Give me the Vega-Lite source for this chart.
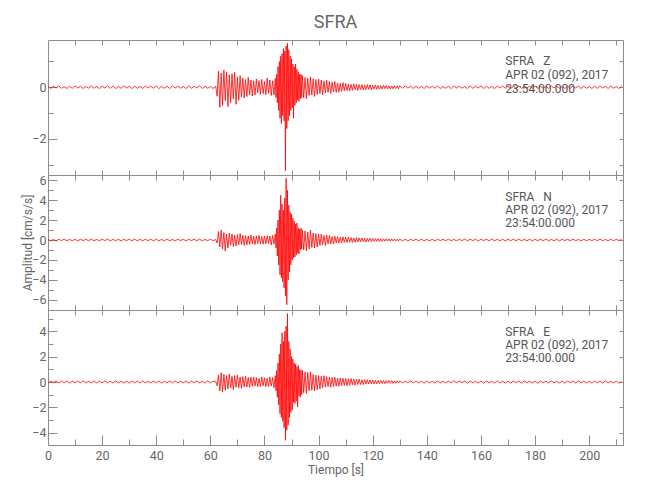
{
"$schema": "https://vega.github.io/schema/vega-lite/v6.json",
"padding": {"left": 21, "top": 14, "right": 20, "bottom": 8},
"title": {"text": "SFRA", "fontSize": 18, "font": "Roboto", "color": "#666", "fontWeight": "normal", "anchor": "middle", "frame": "group", "offset": 7},
"data": {"values": [
{"t":0,"z":0.03,"n":0.07,"e":-0.07},{"t":1,"z":-0.05,"n":-0.08,"e":0.08},{"t":2,"z":0.04,"n":0.06,"e":-0.06},{"t":3,"z":-0.03,"n":-0.09,"e":0.09},{"t":4,"z":0.05,"n":0.08,"e":-0.08},{"t":5,"z":-0.04,"n":-0.06,"e":0.07},{"t":6,"z":0.02,"n":0.09,"e":-0.06},{"t":7,"z":-0.05,"n":-0.07,"e":0.08},{"t":8,"z":0.04,"n":0.06,"e":-0.09},{"t":9,"z":-0.04,"n":-0.08,"e":0.07},
{"t":10,"z":0.05,"n":0.07,"e":-0.06},{"t":11,"z":-0.03,"n":-0.09,"e":0.08},{"t":12,"z":0.04,"n":0.08,"e":-0.07},{"t":13,"z":-0.05,"n":-0.06,"e":0.09},{"t":14,"z":0.03,"n":0.07,"e":-0.08},{"t":15,"z":-0.04,"n":-0.08,"e":0.06},{"t":16,"z":0.05,"n":0.09,"e":-0.07},{"t":17,"z":-0.04,"n":-0.07,"e":0.08},{"t":18,"z":0.03,"n":0.06,"e":-0.09},{"t":19,"z":-0.05,"n":-0.08,"e":0.07},
{"t":20,"z":0.04,"n":0.07,"e":-0.06},{"t":21,"z":-0.03,"n":-0.06,"e":0.08},{"t":22,"z":0.05,"n":0.09,"e":-0.07},{"t":23,"z":-0.04,"n":-0.08,"e":0.06},{"t":24,"z":0.04,"n":0.06,"e":-0.08},{"t":25,"z":-0.05,"n":-0.07,"e":0.09},{"t":26,"z":0.03,"n":0.08,"e":-0.07},{"t":27,"z":-0.04,"n":-0.09,"e":0.06},{"t":28,"z":0.05,"n":0.07,"e":-0.08},{"t":29,"z":-0.03,"n":-0.06,"e":0.07},
{"t":30,"z":0.04,"n":0.08,"e":-0.09},{"t":31,"z":-0.05,"n":-0.07,"e":0.08},{"t":32,"z":0.04,"n":0.09,"e":-0.06},{"t":33,"z":-0.04,"n":-0.08,"e":0.07},{"t":34,"z":0.03,"n":0.06,"e":-0.08},{"t":35,"z":-0.05,"n":-0.07,"e":0.09},{"t":36,"z":0.05,"n":0.08,"e":-0.07},{"t":37,"z":-0.03,"n":-0.06,"e":0.06},{"t":38,"z":0.04,"n":0.07,"e":-0.08},{"t":39,"z":-0.04,"n":-0.09,"e":0.07},
{"t":40,"z":0.05,"n":0.08,"e":-0.06},{"t":41,"z":-0.05,"n":-0.07,"e":0.08},{"t":42,"z":0.03,"n":0.06,"e":-0.09},{"t":43,"z":-0.04,"n":-0.08,"e":0.07},{"t":44,"z":0.04,"n":0.09,"e":-0.06},{"t":45,"z":-0.05,"n":-0.07,"e":0.08},{"t":46,"z":0.05,"n":0.06,"e":-0.07},{"t":47,"z":-0.03,"n":-0.08,"e":0.09},{"t":48,"z":0.04,"n":0.07,"e":-0.08},{"t":49,"z":-0.04,"n":-0.06,"e":0.06},
{"t":50,"z":0.03,"n":0.08,"e":-0.07},{"t":51,"z":-0.05,"n":-0.09,"e":0.08},{"t":52,"z":0.05,"n":0.07,"e":-0.09},{"t":53,"z":-0.04,"n":-0.06,"e":0.07},{"t":54,"z":0.04,"n":0.08,"e":-0.06},{"t":55,"z":-0.03,"n":-0.07,"e":0.08},{"t":56,"z":0.05,"n":0.09,"e":-0.07},{"t":57,"z":-0.05,"n":-0.08,"e":0.06},{"t":58,"z":0.04,"n":0.06,"e":-0.08},{"t":59,"z":-0.04,"n":-0.07,"e":0.09},
{"t":60,"z":0.03,"n":0.08,"e":-0.07},{"t":61,"z":-0.05,"n":-0.06,"e":0.06},
{"t":62,"z":0.03,"n":0.04,"e":0.04},{"t":62.5,"z":-0.35,"n":-0.3,"e":-0.3},{"t":63,"z":0.62,"n":0.85,"e":0.55},{"t":63.5,"z":-0.78,"n":-0.7,"e":-0.7},{"t":64,"z":0.55,"n":1.0,"e":0.72},{"t":64.5,"z":-0.7,"n":-0.9,"e":-0.8},{"t":65,"z":0.66,"n":0.75,"e":0.6},{"t":65.5,"z":-0.52,"n":-1.1,"e":-0.65},{"t":66,"z":0.6,"n":0.6,"e":0.5},{"t":66.5,"z":-0.75,"n":-0.8,"e":-0.55},{"t":67,"z":0.48,"n":0.7,"e":0.62},{"t":67.5,"z":-0.6,"n":-0.55,"e":-0.48},{"t":68,"z":0.52,"n":0.6,"e":0.45},{"t":68.5,"z":-0.45,"n":-0.65,"e":-0.6},{"t":69,"z":0.58,"n":0.5,"e":0.5},{"t":69.5,"z":-0.66,"n":-0.6,"e":-0.42},{"t":70,"z":0.4,"n":0.55,"e":0.55},{"t":70.5,"z":-0.5,"n":-0.5,"e":-0.45},{"t":71,"z":0.45,"n":0.65,"e":0.4},{"t":71.5,"z":-0.38,"n":-0.45,"e":-0.5},{"t":72,"z":0.35,"n":0.5,"e":0.42},{"t":72.5,"z":-0.42,"n":-0.55,"e":-0.38},{"t":73,"z":0.3,"n":0.45,"e":0.45},{"t":73.5,"z":-0.36,"n":-0.5,"e":-0.4},{"t":74,"z":0.38,"n":0.4,"e":0.35},{"t":74.5,"z":-0.3,"n":-0.45,"e":-0.42},{"t":75,"z":0.28,"n":0.5,"e":0.38},{"t":75.5,"z":-0.34,"n":-0.4,"e":-0.35},{"t":76,"z":0.25,"n":0.38,"e":0.4},{"t":76.5,"z":-0.3,"n":-0.45,"e":-0.32},{"t":77,"z":0.32,"n":0.42,"e":0.35},{"t":77.5,"z":-0.22,"n":-0.36,"e":-0.38},{"t":78,"z":0.26,"n":0.48,"e":0.3},{"t":78.5,"z":-0.28,"n":-0.4,"e":-0.36},{"t":79,"z":0.3,"n":0.35,"e":0.4},{"t":79.5,"z":-0.25,"n":-0.42,"e":-0.3},{"t":80,"z":0.22,"n":0.4,"e":0.34},{"t":80.5,"z":-0.3,"n":-0.38,"e":-0.38},{"t":81,"z":0.36,"n":0.45,"e":0.3},{"t":81.5,"z":-0.24,"n":-0.35,"e":-0.35},{"t":82,"z":0.28,"n":0.4,"e":0.4},{"t":82.5,"z":-0.32,"n":-0.5,"e":-0.32},{"t":83,"z":0.25,"n":0.45,"e":0.36},{"t":83.5,"z":-0.3,"n":-0.4,"e":-0.45},{"t":84,"z":0.34,"n":0.6,"e":0.5},
{"t":84.25,"z":-0.4,"n":-0.8,"e":-0.7},{"t":84.5,"z":0.5,"n":1.2,"e":0.9},{"t":84.75,"z":-0.6,"n":-1.6,"e":-1.2},{"t":85,"z":0.8,"n":2.0,"e":1.5},{"t":85.25,"z":-0.9,"n":-2.5,"e":-1.8},{"t":85.5,"z":1.0,"n":3.0,"e":2.2},{"t":85.75,"z":-1.2,"n":-3.5,"e":-2.5},{"t":86,"z":1.2,"n":4.5,"e":3.0},{"t":86.25,"z":-1.4,"n":-3.8,"e":-2.8},{"t":86.5,"z":1.3,"n":3.6,"e":3.9},{"t":86.75,"z":-1.1,"n":-4.2,"e":-3.1},{"t":87,"z":1.5,"n":3.0,"e":3.2},{"t":87.25,"z":-1.3,"n":-4.8,"e":-3.6},{"t":87.5,"z":1.4,"n":4.2,"e":4.0},{"t":87.75,"z":-3.23,"n":-5.6,"e":-4.6},{"t":88,"z":1.6,"n":6.2,"e":4.4},{"t":88.25,"z":-1.6,"n":-6.5,"e":-3.8},{"t":88.5,"z":1.7,"n":5.0,"e":5.4},{"t":88.75,"z":-1.3,"n":-4.0,"e":-3.4},{"t":89,"z":1.45,"n":3.5,"e":3.2},{"t":89.25,"z":-1.1,"n":-3.2,"e":-2.8},{"t":89.5,"z":1.2,"n":2.8,"e":2.6},{"t":89.75,"z":-0.9,"n":-2.5,"e":-2.4},{"t":90,"z":1.1,"n":2.6,"e":2.0},{"t":90.25,"z":-0.8,"n":-2.0,"e":-2.2},{"t":90.5,"z":0.9,"n":2.2,"e":1.8},{"t":90.75,"z":-1.2,"n":-1.8,"e":-1.6},{"t":91,"z":0.8,"n":1.9,"e":1.5},{"t":91.25,"z":-0.7,"n":-1.7,"e":-1.7},{"t":91.5,"z":0.9,"n":1.6,"e":1.4},{"t":91.75,"z":-0.6,"n":-1.5,"e":-1.5},{"t":92,"z":0.7,"n":1.7,"e":1.2},{"t":92.25,"z":-0.5,"n":-1.3,"e":-1.95},{"t":92.5,"z":0.6,"n":1.2,"e":1.3},{"t":92.75,"z":-0.55,"n":-1.4,"e":-1.1},{"t":93,"z":0.5,"n":1.1,"e":1.0},{"t":93.25,"z":-0.45,"n":-1.0,"e":-1.2},{"t":93.5,"z":0.5,"n":1.2,"e":0.9},{"t":93.75,"z":-0.4,"n":-0.9,"e":-1.0},{"t":94,"z":0.45,"n":1.0,"e":0.95},
{"t":94.5,"z":-0.42,"n":-1.0,"e":-0.85},{"t":95,"z":0.38,"n":0.9,"e":0.8},{"t":95.5,"z":-0.45,"n":-1.1,"e":-0.9},{"t":96,"z":0.35,"n":0.8,"e":0.75},{"t":96.5,"z":-0.32,"n":-0.9,"e":-0.7},{"t":97,"z":0.4,"n":1.0,"e":0.8},{"t":97.5,"z":-0.3,"n":-0.75,"e":-0.65},{"t":98,"z":0.33,"n":0.7,"e":0.6},{"t":98.5,"z":-0.36,"n":-0.8,"e":-0.7},{"t":99,"z":0.3,"n":0.65,"e":0.55},{"t":99.5,"z":-0.28,"n":-0.7,"e":-0.6},{"t":100,"z":0.32,"n":0.6,"e":0.5},{"t":100.5,"z":-0.25,"n":-0.55,"e":-0.55},{"t":101,"z":0.28,"n":0.6,"e":0.48},{"t":101.5,"z":-0.3,"n":-0.5,"e":-0.45},{"t":102,"z":0.24,"n":0.45,"e":0.5},{"t":102.5,"z":-0.22,"n":-0.55,"e":-0.4},{"t":103,"z":0.27,"n":0.5,"e":0.42},{"t":103.5,"z":-0.2,"n":-0.4,"e":-0.38},{"t":104,"z":0.22,"n":0.45,"e":0.4},{"t":104.5,"z":-0.24,"n":-0.4,"e":-0.42},{"t":105,"z":0.2,"n":0.35,"e":0.35},{"t":105.5,"z":-0.18,"n":-0.4,"e":-0.36},{"t":106,"z":0.22,"n":0.38,"e":0.38},{"t":106.5,"z":-0.2,"n":-0.3,"e":-0.32},{"t":107,"z":0.17,"n":0.35,"e":0.3},{"t":107.5,"z":-0.19,"n":-0.32,"e":-0.34},{"t":108,"z":0.15,"n":0.28,"e":0.32},{"t":108.5,"z":-0.16,"n":-0.3,"e":-0.28},{"t":109,"z":0.18,"n":0.32,"e":0.3},{"t":109.5,"z":-0.14,"n":-0.25,"e":-0.27},{"t":110,"z":0.15,"n":0.28,"e":0.28},{"t":110.5,"z":-0.13,"n":-0.25,"e":-0.3},{"t":111,"z":0.12,"n":0.3,"e":0.25},{"t":111.5,"z":-0.14,"n":-0.22,"e":-0.26},{"t":112,"z":0.11,"n":0.25,"e":0.27},{"t":112.5,"z":-0.12,"n":-0.24,"e":-0.22},{"t":113,"z":0.13,"n":0.2,"e":0.24},{"t":113.5,"z":-0.1,"n":-0.22,"e":-0.25},{"t":114,"z":0.11,"n":0.24,"e":0.22},{"t":114.5,"z":-0.12,"n":-0.2,"e":-0.2},{"t":115,"z":0.1,"n":0.22,"e":0.23},{"t":115.5,"z":-0.09,"n":-0.18,"e":-0.2},{"t":116,"z":0.1,"n":0.2,"e":0.18},{"t":116.5,"z":-0.11,"n":-0.17,"e":-0.2},{"t":117,"z":0.08,"n":0.18,"e":0.19},{"t":117.5,"z":-0.09,"n":-0.2,"e":-0.17},{"t":118,"z":0.1,"n":0.16,"e":0.18},{"t":118.5,"z":-0.08,"n":-0.17,"e":-0.16},{"t":119,"z":0.09,"n":0.18,"e":0.17},{"t":119.5,"z":-0.1,"n":-0.15,"e":-0.15},{"t":120,"z":0.08,"n":0.16,"e":0.16},{"t":120.5,"z":-0.07,"n":-0.14,"e":-0.15},{"t":121,"z":0.09,"n":0.15,"e":0.14},{"t":121.5,"z":-0.08,"n":-0.13,"e":-0.15},{"t":122,"z":0.07,"n":0.14,"e":0.13},{"t":122.5,"z":-0.08,"n":-0.15,"e":-0.14},{"t":123,"z":0.06,"n":0.12,"e":0.13},{"t":123.5,"z":-0.07,"n":-0.13,"e":-0.12},{"t":124,"z":0.08,"n":0.12,"e":0.12},{"t":124.5,"z":-0.06,"n":-0.11,"e":-0.13},{"t":125,"z":0.07,"n":0.13,"e":0.11},{"t":125.5,"z":-0.06,"n":-0.1,"e":-0.1},{"t":126,"z":0.06,"n":0.11,"e":0.12},{"t":126.5,"z":-0.07,"n":-0.12,"e":-0.1},{"t":127,"z":0.05,"n":0.1,"e":0.1},{"t":127.5,"z":-0.06,"n":-0.09,"e":-0.11},{"t":128,"z":0.06,"n":0.1,"e":0.09},{"t":128.5,"z":-0.05,"n":-0.1,"e":-0.1},{"t":129,"z":0.05,"n":0.08,"e":0.09},{"t":129.5,"z":-0.06,"n":-0.09,"e":-0.08},{"t":130,"z":0.05,"n":0.08,"e":0.08},
{"t":131,"z":-0.04,"n":-0.08,"e":-0.08},{"t":132,"z":0.05,"n":0.07,"e":0.07},{"t":133,"z":-0.03,"n":-0.09,"e":-0.06},{"t":134,"z":0.04,"n":0.08,"e":0.09},{"t":135,"z":-0.05,"n":-0.06,"e":-0.07},{"t":136,"z":0.04,"n":0.07,"e":0.08},{"t":137,"z":-0.04,"n":-0.08,"e":-0.06},{"t":138,"z":0.03,"n":0.09,"e":0.07},{"t":139,"z":-0.05,"n":-0.07,"e":-0.09},
{"t":140,"z":0.05,"n":0.06,"e":0.08},{"t":141,"z":-0.03,"n":-0.08,"e":-0.07},{"t":142,"z":0.04,"n":0.07,"e":0.06},{"t":143,"z":-0.04,"n":-0.09,"e":-0.08},{"t":144,"z":0.05,"n":0.08,"e":0.09},{"t":145,"z":-0.05,"n":-0.06,"e":-0.07},{"t":146,"z":0.03,"n":0.07,"e":0.06},{"t":147,"z":-0.04,"n":-0.08,"e":-0.08},{"t":148,"z":0.04,"n":0.09,"e":0.07},{"t":149,"z":-0.05,"n":-0.07,"e":-0.06},
{"t":150,"z":0.05,"n":0.06,"e":0.09},{"t":151,"z":-0.03,"n":-0.08,"e":-0.07},{"t":152,"z":0.04,"n":0.07,"e":0.08},{"t":153,"z":-0.04,"n":-0.06,"e":-0.06},{"t":154,"z":0.03,"n":0.09,"e":0.07},{"t":155,"z":-0.05,"n":-0.08,"e":-0.09},{"t":156,"z":0.05,"n":0.07,"e":0.08},{"t":157,"z":-0.04,"n":-0.06,"e":-0.07},{"t":158,"z":0.04,"n":0.08,"e":0.06},{"t":159,"z":-0.03,"n":-0.09,"e":-0.08},
{"t":160,"z":0.05,"n":0.07,"e":0.07},{"t":161,"z":-0.05,"n":-0.06,"e":-0.09},{"t":162,"z":0.04,"n":0.08,"e":0.08},{"t":163,"z":-0.04,"n":-0.07,"e":-0.06},{"t":164,"z":0.03,"n":0.09,"e":0.07},{"t":165,"z":-0.05,"n":-0.08,"e":-0.08},{"t":166,"z":0.04,"n":0.06,"e":0.09},{"t":167,"z":-0.03,"n":-0.07,"e":-0.07},{"t":168,"z":0.05,"n":0.08,"e":0.06},{"t":169,"z":-0.04,"n":-0.09,"e":-0.08},
{"t":170,"z":0.04,"n":0.07,"e":0.07},{"t":171,"z":-0.05,"n":-0.06,"e":-0.09},{"t":172,"z":0.03,"n":0.08,"e":0.08},{"t":173,"z":-0.04,"n":-0.07,"e":-0.06},{"t":174,"z":0.05,"n":0.09,"e":0.07},{"t":175,"z":-0.05,"n":-0.08,"e":-0.08},{"t":176,"z":0.04,"n":0.06,"e":0.09},{"t":177,"z":-0.03,"n":-0.07,"e":-0.07},{"t":178,"z":0.04,"n":0.08,"e":0.06},{"t":179,"z":-0.04,"n":-0.09,"e":-0.08},
{"t":180,"z":0.05,"n":0.07,"e":0.07},{"t":181,"z":-0.05,"n":-0.06,"e":-0.09},{"t":182,"z":0.03,"n":0.08,"e":0.08},{"t":183,"z":-0.04,"n":-0.07,"e":-0.06},{"t":184,"z":0.04,"n":0.09,"e":0.07},{"t":185,"z":-0.05,"n":-0.08,"e":-0.08},{"t":186,"z":0.05,"n":0.06,"e":0.09},{"t":187,"z":-0.03,"n":-0.07,"e":-0.07},{"t":188,"z":0.04,"n":0.08,"e":0.06},{"t":189,"z":-0.04,"n":-0.09,"e":-0.08},
{"t":190,"z":0.03,"n":0.07,"e":0.07},{"t":191,"z":-0.05,"n":-0.06,"e":-0.09},{"t":192,"z":0.05,"n":0.08,"e":0.08},{"t":193,"z":-0.04,"n":-0.07,"e":-0.06},{"t":194,"z":0.04,"n":0.09,"e":0.07},{"t":195,"z":-0.03,"n":-0.08,"e":-0.08},{"t":196,"z":0.05,"n":0.06,"e":0.09},{"t":197,"z":-0.05,"n":-0.07,"e":-0.07},{"t":198,"z":0.04,"n":0.08,"e":0.06},{"t":199,"z":-0.04,"n":-0.09,"e":-0.08},
{"t":200,"z":0.03,"n":0.07,"e":0.07},{"t":201,"z":-0.05,"n":-0.06,"e":-0.09},{"t":202,"z":0.04,"n":0.08,"e":0.08},{"t":203,"z":-0.04,"n":-0.07,"e":-0.06},{"t":204,"z":0.05,"n":0.09,"e":0.07},{"t":205,"z":-0.03,"n":-0.08,"e":-0.08},{"t":206,"z":0.04,"n":0.06,"e":0.09},{"t":207,"z":-0.05,"n":-0.07,"e":-0.07},{"t":208,"z":0.05,"n":0.08,"e":0.06},{"t":209,"z":-0.04,"n":-0.09,"e":-0.08},
{"t":210,"z":0.03,"n":0.07,"e":0.07},{"t":211,"z":-0.05,"n":-0.06,"e":-0.09},{"t":212,"z":0.04,"n":0.08,"e":0.08}
]},
"spacing": 0,
"bounds": "flush",
"vconcat": [
{
 "width": 575, "height": 135,
 "resolve": {"axis": {"x": "independent", "y": "independent"}},
 "layer": [
  {"mark": {"type": "line", "color": "#ff0000", "strokeWidth": 0.8},
   "encoding": {
    "x": {"field": "t", "type": "quantitative", "scale": {"domain": [0, 212.5], "nice": false, "zero": false},
          "axis": {"orient": "bottom", "values": [10,20,30,40,50,60,70,80,90,100,110,120,130,140,150,160,170,180,190,200,210], "tickSize": -5, "labels": false, "title": null}},
    "y": {"field": "z", "type": "quantitative", "scale": {"domain": [-3.4, 1.83], "nice": false, "zero": false},
          "axis": {"orient": "left", "values": [-2, 0], "tickSize": -9, "labelPadding": 11, "title": null}}}},
  {"mark": {"type": "line", "opacity": 0},
   "encoding": {
    "x": {"field": "t", "type": "quantitative", "axis": null},
    "y": {"field": "z", "type": "quantitative", "axis": {"orient": "left", "values": [-3, -1, 1], "tickSize": -5, "labels": false, "title": null}}}},
  {"mark": {"type": "line", "opacity": 0},
   "encoding": {
    "x": {"field": "t", "type": "quantitative", "axis": {"orient": "top", "values": [10,20,30,40,50,60,70,80,90,100,110,120,130,140,150,160,170,180,190,200,210], "tickSize": -5, "labels": false, "title": null}},
    "y": {"field": "z", "type": "quantitative", "axis": {"orient": "right", "values": [-3, -2, -1, 0, 1], "tickSize": -4, "labels": false, "title": null}}}},
  {"data": {"values": [{"label": "SFRA\u00a0\u00a0\u00a0Z\nAPR 02 (092), 2017\n23:54:00.000"}]},
   "mark": {"type": "text", "align": "left", "baseline": "top", "lineBreak": "\n", "lineHeight": 14, "font": "Roboto", "fontSize": 12, "color": "#555"},
   "encoding": {
    "x": {"datum": 169, "type": "quantitative", "axis": null},
    "y": {"datum": 1.22, "type": "quantitative", "axis": null},
    "text": {"field": "label", "type": "nominal"}}}
 ]
},
{
 "width": 575, "height": 135,
 "resolve": {"axis": {"x": "independent", "y": "independent"}},
 "layer": [
  {"mark": {"type": "line", "color": "#ff0000", "strokeWidth": 0.8},
   "encoding": {
    "x": {"field": "t", "type": "quantitative", "scale": {"domain": [0, 212.5], "nice": false, "zero": false},
          "axis": {"orient": "bottom", "values": [10,20,30,40,50,60,70,80,90,100,110,120,130,140,150,160,170,180,190,200,210], "tickSize": -5, "labels": false, "title": null}},
    "y": {"field": "n", "type": "quantitative", "scale": {"domain": [-7.03, 6.53], "nice": false, "zero": false},
          "axis": {"orient": "left", "values": [-6, -4, -2, 0, 2, 4, 6], "tickSize": -9, "labelPadding": 11, "title": "Amplitud [cm/s/s]", "titlePadding": -3}}}},
  {"mark": {"type": "line", "opacity": 0},
   "encoding": {
    "x": {"field": "t", "type": "quantitative", "axis": null},
    "y": {"field": "n", "type": "quantitative", "axis": {"orient": "left", "values": [-5, -3, -1, 1, 3, 5], "tickSize": -5, "labels": false, "title": null}}}},
  {"mark": {"type": "line", "opacity": 0},
   "encoding": {
    "x": {"field": "t", "type": "quantitative", "axis": {"orient": "top", "values": [10,20,30,40,50,60,70,80,90,100,110,120,130,140,150,160,170,180,190,200,210], "tickSize": -5, "labels": false, "title": null}},
    "y": {"field": "n", "type": "quantitative", "axis": {"orient": "right", "values": [-6, -4, -2, 0, 2, 4, 6], "tickSize": -4, "labels": false, "title": null}}}},
  {"data": {"values": [{"label": "SFRA\u00a0\u00a0\u00a0N\nAPR 02 (092), 2017\n23:54:00.000"}]},
   "mark": {"type": "text", "align": "left", "baseline": "top", "lineBreak": "\n", "lineHeight": 13, "font": "Roboto", "fontSize": 12, "color": "#555"},
   "encoding": {
    "x": {"datum": 169, "type": "quantitative", "axis": null},
    "y": {"datum": 4.85, "type": "quantitative", "axis": null},
    "text": {"field": "label", "type": "nominal"}}}
 ]
},
{
 "width": 575, "height": 135,
 "resolve": {"axis": {"x": "independent", "y": "independent"}},
 "layer": [
  {"mark": {"type": "line", "color": "#ff0000", "strokeWidth": 0.8},
   "encoding": {
    "x": {"field": "t", "type": "quantitative", "scale": {"domain": [0, 212.5], "nice": false, "zero": false},
          "axis": {"orient": "bottom", "values": [0,20,40,60,80,100,120,140,160,180,200], "tickSize": -10, "labelPadding": 14, "labelDx": -3, "labelFlush": false, "title": "Tiempo [s]", "titlePadding": 3}},
    "y": {"field": "e", "type": "quantitative", "scale": {"domain": [-4.97, 5.68], "nice": false, "zero": false},
          "axis": {"orient": "left", "values": [-4, -2, 0, 2, 4], "tickSize": -9, "labelPadding": 11, "title": null}}}},
  {"mark": {"type": "line", "opacity": 0},
   "encoding": {
    "x": {"field": "t", "type": "quantitative", "axis": {"orient": "bottom", "values": [10,30,50,70,90,110,130,150,170,190,210], "tickSize": -6, "labels": false, "title": null}},
    "y": {"field": "e", "type": "quantitative", "axis": {"orient": "left", "values": [-3, -1, 1, 3, 5], "tickSize": -5, "labels": false, "title": null}}}},
  {"mark": {"type": "line", "opacity": 0},
   "encoding": {
    "x": {"field": "t", "type": "quantitative", "axis": {"orient": "top", "values": [10,20,30,40,50,60,70,80,90,100,110,120,130,140,150,160,170,180,190,200,210], "tickSize": -5, "labels": false, "title": null}},
    "y": {"field": "e", "type": "quantitative", "axis": {"orient": "right", "values": [-4, -2, 0, 2, 4], "tickSize": -4, "labels": false, "title": null}}}},
  {"data": {"values": [{"label": "SFRA\u00a0\u00a0\u00a0E\nAPR 02 (092), 2017\n23:54:00.000"}]},
   "mark": {"type": "text", "align": "left", "baseline": "top", "lineBreak": "\n", "lineHeight": 13, "font": "Roboto", "fontSize": 12, "color": "#555"},
   "encoding": {
    "x": {"datum": 169, "type": "quantitative", "axis": null},
    "y": {"datum": 4.37, "type": "quantitative", "axis": null},
    "text": {"field": "label", "type": "nominal"}}}
 ]
}
],
"config": {
 "view": {"stroke": "#8c8c8c", "strokeWidth": 1},
 "axis": {"grid": false, "domain": false, "tickColor": "#8c8c8c", "tickWidth": 1, "labelColor": "#666", "labelFont": "Roboto", "labelFontSize": 12.5, "titleFont": "Roboto", "titleFontSize": 12, "titleColor": "#666", "titleFontWeight": "normal"}
}
}
